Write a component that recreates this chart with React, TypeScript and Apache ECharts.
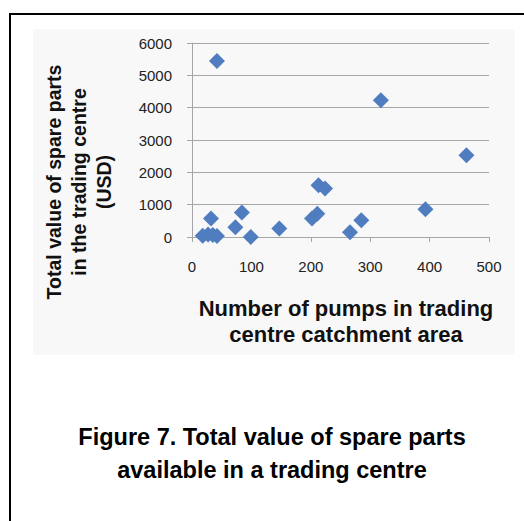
import React, { useEffect, useRef } from "react";
import * as echarts from "echarts";

const pumps: number[] = [42, 318, 462, 213, 224, 393, 211, 202, 285, 266, 32, 84, 73, 99, 147, 18, 27, 35, 42];
const spareValue: number[] = [5440, 4230, 2530, 1600, 1500, 860, 720, 570, 520, 150, 570, 760, 300, 0, 260, 40, 80, 60, 30];
const yTitleLines: string[] = ["Total value of spare parts", "in the trading centre", "(USD)"];
const xTitleLines: string[] = ["Number of pumps in trading", "centre catchment area"];
const captionLines: string[] = ["Figure 7. Total value of spare parts", "available in a trading centre"];

const FONT = "'Liberation Sans', Arial, Helvetica, sans-serif";

export default function App() {
  const ref = useRef<HTMLDivElement>(null);
  useEffect(() => {
    if (!ref.current) return;
    const chart = echarts.init(ref.current, null, { renderer: "svg" });
    const data = pumps.map((x, i) => [x, spareValue[i]]);
    chart.setOption({
      animation: false,
      backgroundColor: "#ffffff",
      textStyle: { fontFamily: FONT },
      grid: { left: 192, right: 35, top: 43, bottom: 284, containLabel: false },
      xAxis: {
        type: "value",
        min: 0,
        max: 500,
        interval: 100,
        axisLine: { show: true, onZero: false, lineStyle: { color: "#a6a6a6", width: 1 } },
        axisTick: { show: true, length: 5, lineStyle: { color: "#a6a6a6" } },
        splitLine: { show: false },
        axisLabel: { fontSize: 15, color: "#222", margin: 22, fontFamily: FONT, formatter: (v: number) => String(v) },
      },
      yAxis: {
        type: "value",
        min: 0,
        max: 6000,
        interval: 1000,
        axisLine: { show: true, lineStyle: { color: "#a6a6a6", width: 1 } },
        axisTick: { show: true, length: 5, lineStyle: { color: "#a6a6a6" } },
        splitLine: { show: true, lineStyle: { color: "#a6a6a6", width: 1 } },
        axisLabel: { fontSize: 15, color: "#222", margin: 20, fontFamily: FONT, formatter: (v: number) => String(v) },
      },
      series: [
        {
          type: "scatter",
          data,
          symbol: "diamond",
          symbolSize: 16,
          itemStyle: { color: "#4F7DC0", opacity: 1 },
          z: 5,
        },
      ],
      graphic: [
        {
          type: "rect",
          z: -100,
          shape: { x: 33, y: 29, width: 482, height: 326 },
          style: { fill: "#f8f8f8" },
          silent: true,
        },
        {
          type: "line",
          shape: { x1: 10, y1: 14, x2: 524, y2: 14 },
          style: { stroke: "#000", lineWidth: 2 },
        },
        {
          type: "line",
          shape: { x1: 10, y1: 13, x2: 10, y2: 521 },
          style: { stroke: "#000", lineWidth: 2 },
        },
        {
          type: "text",
          x: 79,
          y: 182,
          rotation: Math.PI / 2,
          style: {
            text: yTitleLines.join("\n"),
            fontSize: 19.5,
            fontWeight: "bold",
            fontFamily: FONT,
            lineHeight: 25,
            fill: "#111",
            align: "center",
            verticalAlign: "middle",
          },
        },
        {
          type: "text",
          x: 346,
          y: 321,
          style: {
            text: xTitleLines.join("\n"),
            fontSize: 22,
            fontWeight: "bold",
            fontFamily: FONT,
            lineHeight: 26,
            fill: "#111",
            align: "center",
            verticalAlign: "middle",
          },
        },
        {
          type: "text",
          x: 272,
          y: 453,
          style: {
            text: captionLines.join("\n"),
            fontSize: 23.5,
            fontWeight: "bold",
            fontFamily: FONT,
            lineHeight: 33,
            fill: "#000",
            align: "center",
            verticalAlign: "middle",
          },
        },
      ],
    });
    return () => chart.dispose();
  }, []);
  return (
    <div
      ref={ref}
      style={{ position: "absolute", left: 0, top: 0, width: 524, height: 521 }}
    />
  );
}
